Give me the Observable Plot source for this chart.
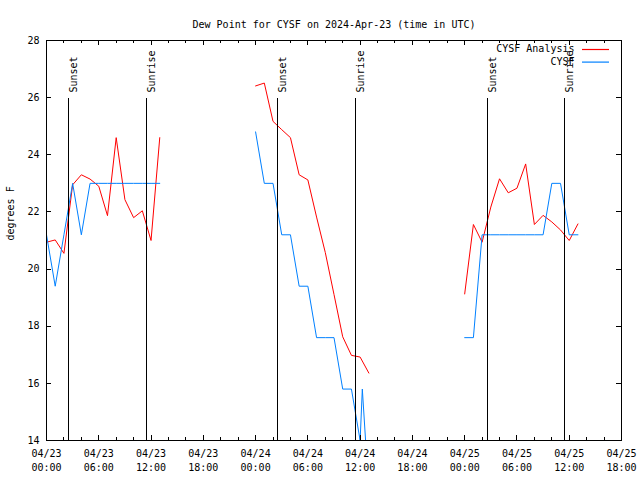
<!DOCTYPE html>
<html><head><meta charset="utf-8">
<script src="https://cdn.jsdelivr.net/npm/d3@7"></script>
<script src="https://cdn.jsdelivr.net/npm/@observablehq/plot@0.6"></script>
<style>body{margin:0;background:#fff}</style>
</head><body><div id="chart"></div>
<script>
// ---- data (hours after 2024-04-23 00:00 UTC) ----
const startTime = Date.UTC(2024, 3, 23, 0, 0);
const endTime = Date.UTC(2024, 3, 25, 18, 0);

const analysisHours1 = [0,1,2,3,4,5,6,7,8,9,10,11,12,13];
const analysisValues1 = [20.94,21.02,20.55,22.95,23.3,23.15,22.9,21.87,24.6,22.43,21.8,22.04,21.0,24.6];
const analysisHours2 = [24,25,26,27,28,29,30,31,32,33,34,35,36,37];
const analysisValues2 = [26.41,26.51,25.17,24.88,24.6,23.3,23.12,21.82,20.58,19.11,17.63,16.98,16.92,16.36];
const analysisHours3 = [48,49,50,51,52,53,54,55,56,57,58,59,60,61];
const analysisValues3 = [19.13,21.56,20.94,22.17,23.16,22.67,22.83,23.68,21.56,21.88,21.65,21.37,21.0,21.58];

const obsHours1 = [0,1,2,3,4,5,6,7,8,9,10,11,12,13];
const obsValues1 = [21.2,19.4,21.2,23.0,21.2,23.0,23.0,23.0,23.0,23.0,23.0,23.0,23.0,23.0];
const obsHours2 = [24,25,26,27,28,29,30,31,32,33,34,35,36,36.25,37];
const obsValues2 = [24.8,23.0,23.0,21.2,21.2,19.4,19.4,17.6,17.6,17.6,15.8,15.8,14.0,15.8,12.2];
const obsHours3 = [48,49,50,51,52,53,54,55,56,57,58,59,60,61];
const obsValues3 = [17.6,17.6,21.2,21.2,21.2,21.2,21.2,21.2,21.2,21.2,23.0,23.0,21.2,21.2];

const sunTimes = ["2024-04-23T02:31Z","2024-04-23T11:29Z","2024-04-24T02:34Z","2024-04-24T11:28Z","2024-04-25T02:40Z","2024-04-25T11:28Z"];
const sunLabels = ["Sunset","Sunrise","Sunset","Sunrise","Sunset","Sunrise"];

const majorTickHours = [0,6,12,18,24,30,36,42,48,54,60,66];
const minorTickHours = [2,4,8,10,14,16,20,22,26,28,32,34,38,40,44,46,50,52,56,58,62,64];
const yTicks = [14,16,18,20,22,24,26,28];

const seriesNames = ["CYSF Analysis", "CYSF"];
const seriesColors = ["#ff0000", "#0080ff"];
const titleText = "Dew Point for CYSF on 2024-Apr-23 (time in UTC)";
const yLabel = "degrees F";

// ---- build tables ----
const toDate = h => new Date(startTime + h * 3600e3);
function seg(hours, values, id) { return hours.map((h, i) => ({time: toDate(h), value: values[i], seg: id})); }
const analysis = [...seg(analysisHours1, analysisValues1, 1), ...seg(analysisHours2, analysisValues2, 2), ...seg(analysisHours3, analysisValues3, 3)];
const obs = [...seg(obsHours1, obsValues1, 1), ...seg(obsHours2, obsValues2, 2), ...seg(obsHours3, obsValues3, 3)];
const sun = sunTimes.map((t, i) => ({time: new Date(t), label: sunLabels[i]}));
const majorTicks = majorTickHours.map(toDate);
const minorTicks = minorTickHours.map(toDate);

// ---- layout ----
const W = 640, H = 480, ML = 46, MR = 19, MT = 40, MB = 40;
const FW = W - ML - MR, FH = H - MT - MB;
const MAJ = 5, MIN = 3;
const font = "DejaVu Sans Mono, monospace";

const chart = Plot.plot({
  width: W, height: H,
  marginLeft: ML, marginRight: MR, marginTop: MT, marginBottom: MB,
  style: {fontFamily: font, fontSize: "10px", background: "#fff", color: "#000"},
  x: {type: "utc", domain: [new Date(startTime), new Date(endTime)]},
  y: {domain: [14, 28]},
  marks: [
    Plot.line(analysis, {x: "time", y: "value", z: "seg", stroke: seriesColors[0], strokeWidth: 1, clip: true}),
    Plot.line(obs, {x: "time", y: "value", z: "seg", stroke: seriesColors[1], strokeWidth: 1, clip: true}),
    Plot.ruleX(sun, {x: "time", insetTop: 58, stroke: "#000", shapeRendering: "crispEdges"}),
    Plot.text(sun, {x: "time", text: "label", frameAnchor: "top", dy: 52, dx: 1, rotate: -90, textAnchor: "start", fontSize: 10}),
    // ticks (inward, mirrored)
    Plot.ruleX(majorTicks, {insetTop: FH - MAJ, stroke: "#000", shapeRendering: "crispEdges"}),
    Plot.ruleX(majorTicks, {insetBottom: FH - MAJ, stroke: "#000", shapeRendering: "crispEdges"}),
    Plot.ruleX(minorTicks, {insetTop: FH - MIN, stroke: "#000", shapeRendering: "crispEdges"}),
    Plot.ruleX(minorTicks, {insetBottom: FH - MIN, stroke: "#000", shapeRendering: "crispEdges"}),
    Plot.ruleY(yTicks, {insetRight: FW - MAJ, stroke: "#000", shapeRendering: "crispEdges"}),
    Plot.ruleY(yTicks, {insetLeft: FW - MAJ, stroke: "#000", shapeRendering: "crispEdges"}),
    Plot.axisX(majorTicks, {tickSize: 0, tickPadding: 7, tickFormat: d3.utcFormat("%m/%d\n%H:%M"), lineHeight: 1.4, fontSize: 10, fill: "#000"}),
    Plot.axisY(yTicks, {tickSize: 0, tickPadding: 7, fontSize: 10, fill: "#000", label: null}),
    Plot.frame({stroke: "#000", shapeRendering: "crispEdges"}),
    Plot.text([titleText], {frameAnchor: "top", dy: -20, fontSize: 10, fill: "#000"}),
    Plot.text([yLabel], {frameAnchor: "left", dx: -36, rotate: -90, fontSize: 10, fill: "#000"}),
    Plot.text([seriesNames.join("\n")], {frameAnchor: "top-right", dx: -47, dy: 3, textAnchor: "end", lineAnchor: "top", lineHeight: 1.26, fontSize: 10, fill: "#000"})
  ]
});

// legend swatches
const svg = d3.select(chart);
seriesNames.forEach((n, i) => {
  svg.append("line")
    .attr("x1", W - MR - 39).attr("x2", W - MR - 12)
    .attr("y1", MT + 9.5 + i * 12.6).attr("y2", MT + 9.5 + i * 12.6)
    .attr("stroke", seriesColors[i]).attr("stroke-width", 1.2);
});
document.getElementById("chart").appendChild(chart);
</script>
</body></html>
